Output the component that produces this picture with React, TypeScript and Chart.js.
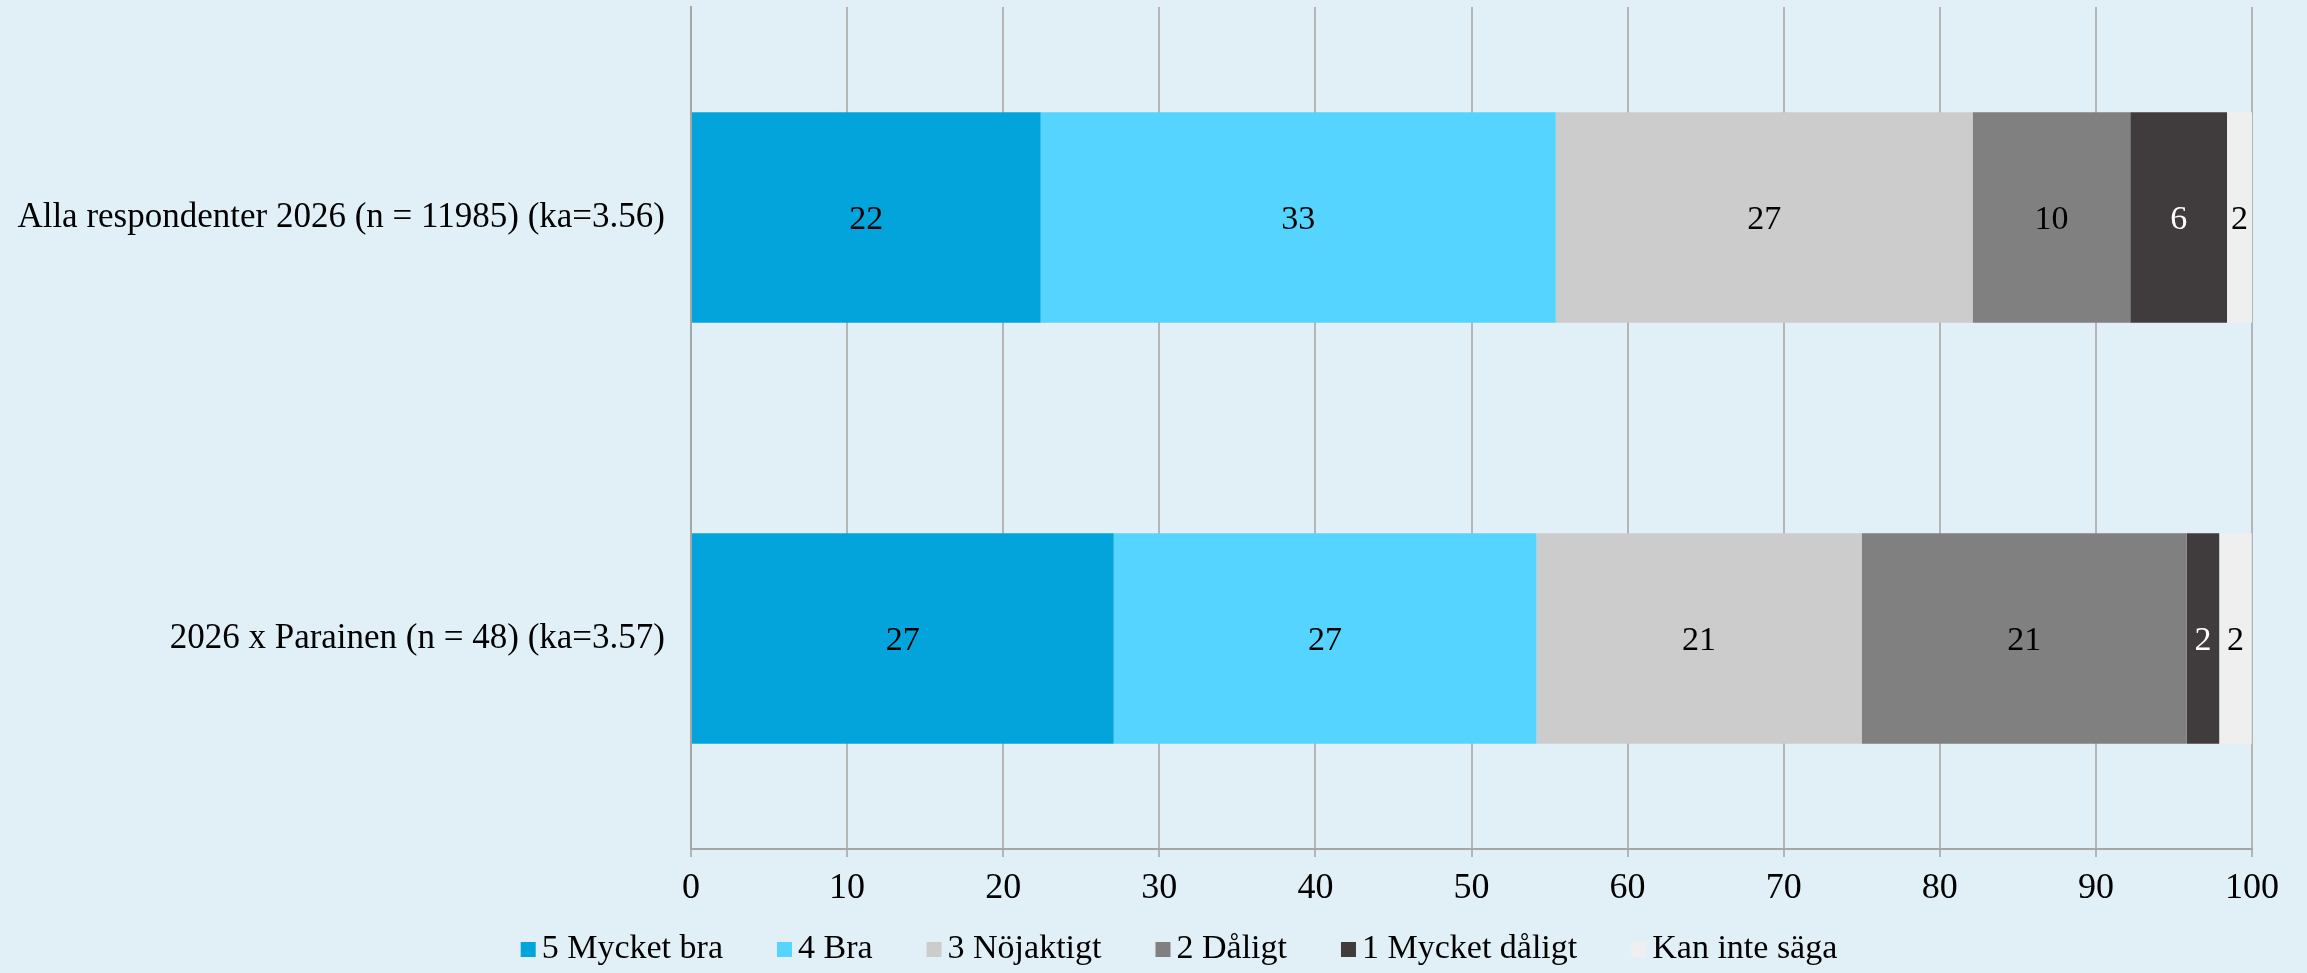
import React, { useEffect, useRef } from "react";
import { Chart, registerables } from "chart.js";

Chart.register(...registerables);

const categories = [
  "Alla respondenter 2026 (n = 11985) (ka=3.56)",
  "2026 x Parainen (n = 48) (ka=3.57)",
];
const seriesNames = [
  "5 Mycket bra",
  "4 Bra",
  "3 Nöjaktigt",
  "2 Dåligt",
  "1 Mycket dåligt",
  "Kan inte säga",
];
const mycketBra = [22.4, 27.08];
const bra = [33.0, 27.08];
const nojaktigt = [26.7, 20.83];
const daligt = [10.1, 20.83];
const mycketDaligt = [6.2, 2.08];
const kanInteSaga = [1.6, 2.08];
const seriesValues = [mycketBra, bra, nojaktigt, daligt, mycketDaligt, kanInteSaga];
const seriesColors = ["#02A4DB", "#55D4FF", "#CCCCCC", "#808080", "#403C3D", "#EFEFEF"];
const labelColors = ["#000", "#000", "#000", "#000", "#FFF", "#000"];
const xTicks = [0, 10, 20, 30, 40, 50, 60, 70, 80, 90, 100];

const FONT = "'Liberation Serif', serif";
const W = 2307;
const H = 973;

const dataLabelPlugin = {
  id: "dataLabels",
  afterDatasetsDraw(chart: any) {
    const ctx = chart.ctx;
    ctx.save();
    ctx.font = `34px ${FONT}`;
    ctx.textAlign = "center";
    ctx.textBaseline = "middle";
    chart.data.datasets.forEach((ds: any, di: number) => {
      const meta = chart.getDatasetMeta(di);
      meta.data.forEach((el: any, i: number) => {
        const v = ds.data[i];
        if (!v) return;
        const p = el.getCenterPoint();
        ctx.fillStyle = labelColors[di];
        ctx.fillText(String(Math.round(v)), p.x, p.y + 3);
      });
    });
    ctx.restore();
  },
};

const legendPlugin = {
  id: "customLegend",
  afterDraw(chart: any) {
    const ctx = chart.ctx;
    ctx.save();
    ctx.font = `34px ${FONT}`;
    ctx.textBaseline = "middle";
    ctx.textAlign = "left";
    const box = 15;
    const gap = 6;
    const itemGap = 54;
    const widths = seriesNames.map((n) => box + gap + ctx.measureText(n).width);
    const total = widths.reduce((a, b) => a + b, 0) + itemGap * (widths.length - 1);
    let x = 1179 - total / 2;
    const cy = 949;
    seriesNames.forEach((n, i) => {
      ctx.fillStyle = seriesColors[i];
      ctx.fillRect(x, cy - 7, box, box);
      ctx.fillStyle = "#000";
      ctx.fillText(n, x + box + gap, cy);
      x += widths[i] + itemGap;
    });
    ctx.restore();
  },
};

export default function App() {
  const ref = useRef<HTMLCanvasElement>(null);
  useEffect(() => {
    document.body.style.margin = "0";
    document.body.style.background = "#E1F0F7";
    const chart = new Chart(ref.current!, {
      type: "bar",
      data: {
        labels: categories,
        datasets: seriesNames.map((name, i) => ({
          label: name,
          data: seriesValues[i],
          backgroundColor: seriesColors[i],
          borderWidth: 0,
          barPercentage: 0.5,
          categoryPercentage: 1,
        })),
      },
      options: {
        indexAxis: "y",
        responsive: false,
        animation: false,
        layout: { padding: { top: 7, right: 55, bottom: 64, left: 0 } },
        plugins: {
          legend: { display: false },
          tooltip: { enabled: false },
        },
        scales: {
          x: {
            stacked: true,
            min: 0,
            max: 100,
            afterBuildTicks: (s: any) => {
              s.ticks = xTicks.map((v) => ({ value: v }));
            },
            afterFit: (s: any) => {
              s.height = 60;
            },
            grid: { color: "#B5B5B5", lineWidth: 2, tickLength: 8, drawTicks: true },
            border: { color: "#A6A6A6", width: 2 },
            ticks: { color: "#000", font: { family: FONT, size: 36 }, padding: 10, maxRotation: 0 },
          },
          y: {
            stacked: true,
            afterFit: (s: any) => {
              s.width = 691;
              s.paddingTop = 0;
              s.paddingBottom = 0;
            },
            grid: { display: false, drawTicks: false },
            border: { color: "#A6A6A6", width: 2 },
            ticks: { color: "#000", font: { family: FONT, size: 35 }, padding: 26 },
          },
        },
      },
      plugins: [dataLabelPlugin, legendPlugin],
    } as any);
    return () => chart.destroy();
  }, []);
  return (
    <div style={{ width: W, height: H, background: "#E1F0F7" }}>
      <canvas ref={ref} width={W} height={H} style={{ display: "block" }} />
    </div>
  );
}
